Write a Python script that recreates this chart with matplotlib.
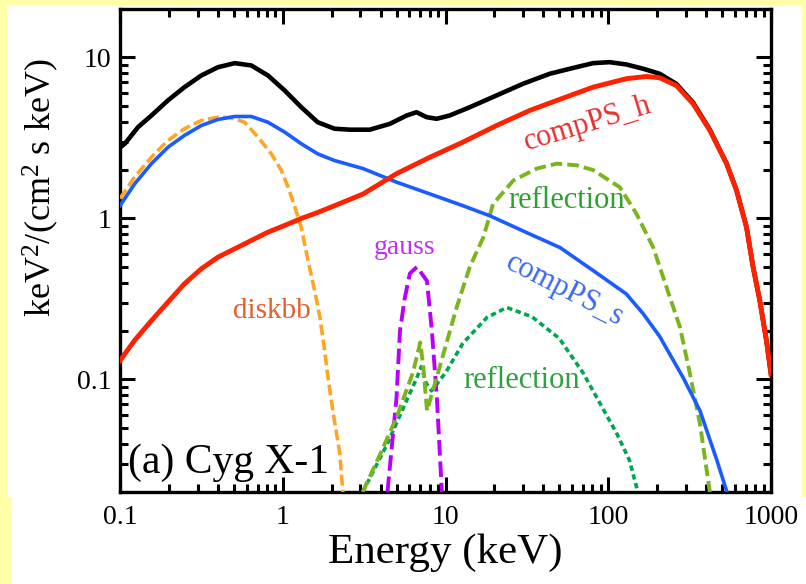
import matplotlib.pyplot as plt
import matplotlib.patches as patches
import numpy as np

plt.rcParams['font.family'] = ['Liberation Serif', 'DejaVu Serif']
plt.rcParams['mathtext.fontset'] = 'custom'
plt.rcParams['mathtext.rm'] = 'Liberation Serif'
plt.rcParams['mathtext.it'] = 'Liberation Serif'

# model components, energy in keV, E^2 F in keV^2/(cm^2 s keV)
total_E = [0.1, 0.107, 0.129, 0.156, 0.197, 0.249, 0.316, 0.40, 0.507, 0.641, 0.811, 1.027, 1.30, 1.64,
           2.08, 2.59, 3.43, 4.55, 5.77, 6.64, 7.65, 8.82, 10.6, 14.1, 20.6, 30, 43.7, 63.8, 80.7, 102,
           129, 164, 207, 262, 332, 421, 533, 614, 707, 776, 853, 937, 1000]
total_F = [2.76, 2.91, 3.69, 4.36, 5.41, 6.54, 7.73, 8.7, 9.22, 8.92, 7.73, 6.24, 4.91, 3.96,
           3.61, 3.56, 3.56, 3.87, 4.36, 4.57, 4.26, 4.16, 4.36, 4.91, 5.81, 6.87, 7.92, 8.71, 9.22, 9.35,
           9.05, 8.51, 7.92, 6.85, 5.25, 3.56, 2.2, 1.5, 0.885, 0.5, 0.31, 0.175, 0.108]

compPS_h_E = [0.1, 0.123, 0.156, 0.197, 0.249, 0.316, 0.40, 0.507, 0.641, 0.811, 1.027, 1.30, 1.64, 2.08,
              3.12, 5.01, 8.02, 12.8, 20.6, 33, 50.5, 80.7, 129, 172, 207, 262, 332, 421, 533, 614, 707,
              776, 853, 937, 1000]
compPS_h_F = [0.131, 0.175, 0.232, 0.302, 0.393, 0.487, 0.575, 0.648, 0.73, 0.822, 0.905, 1.0, 1.09, 1.2,
              1.42, 1.90, 2.40, 2.98, 3.78, 4.69, 5.5, 6.54, 7.38, 7.62, 7.48, 6.7, 5.16, 3.52, 2.19, 1.49,
              0.883, 0.499, 0.31, 0.175, 0.108]

compPS_s_E = [0.1, 0.123, 0.156, 0.197, 0.249, 0.316, 0.40, 0.507, 0.641, 0.811, 1.027, 1.30, 1.64, 2.08,
              3.12, 5.01, 8.02, 12.8, 18.7, 33, 50.5, 80.7, 129, 164, 207, 288, 366, 465, 536]
compPS_s_F = [1.2, 1.64, 2.19, 2.77, 3.28, 3.78, 4.12, 4.30, 4.30, 3.96, 3.44, 2.91, 2.52, 2.29,
              2.04, 1.68, 1.42, 1.2, 1.04, 0.80, 0.66, 0.475, 0.34, 0.256, 0.185, 0.103, 0.064, 0.0315, 0.02]

diskbb_E = [0.1, 0.123, 0.156, 0.197, 0.249, 0.316, 0.40, 0.483, 0.583, 0.705, 0.85, 0.98, 1.08, 1.18,
            1.30, 1.43, 1.57, 1.69, 1.81, 1.88, 2.03, 2.24, 2.34]
diskbb_F = [1.33, 1.81, 2.40, 3.05, 3.61, 4.06, 4.26, 4.22, 3.96, 3.2, 2.52, 1.99, 1.56, 1.2,
            0.88, 0.548, 0.357, 0.244, 0.151, 0.11, 0.064, 0.035, 0.02]

gauss_E = [4.4, 5.0, 5.25, 5.62, 6.04, 6.67, 7.69, 8.25, 8.85, 9.5]
gauss_F = [0.02, 0.077, 0.2, 0.32, 0.455, 0.5, 0.41, 0.2, 0.077, 0.02]

refl1_E = [3.1, 4.0, 5.0, 6.3, 7.0, 7.3, 7.7, 9.0, 11.7, 14.1, 17.1, 19.6, 26.1, 36.3, 48.2, 63.8, 80.7,
           118, 149, 189, 228, 276, 318, 366, 421]
refl1_F = [0.02, 0.035, 0.058, 0.11, 0.17, 0.12, 0.064, 0.11, 0.28, 0.5, 0.766, 1.23, 1.72, 2.04, 2.19,
           2.14, 2.0, 1.56, 1.07, 0.66, 0.374, 0.211, 0.108, 0.053, 0.02]

refl2_E = [3.1, 4.4, 5.8, 6.6, 7.1, 7.6, 8.2, 10, 12.8, 18, 23.8, 34, 50, 70, 89, 113, 135, 152]
refl2_F = [0.02, 0.04, 0.075, 0.1, 0.12, 0.095, 0.085, 0.11, 0.168, 0.243, 0.28, 0.245, 0.18, 0.11,
           0.071, 0.046, 0.0315, 0.02]

fig = plt.figure(figsize=(8.06, 5.84), dpi=100, facecolor='#FFFFA8')
fig.patches.append(patches.Rectangle((7/806, 1-497/584), 795/806, 492/584, transform=fig.transFigure,
                                     facecolor='white', edgecolor='none', zorder=-5))
fig.patches.append(patches.Rectangle((12/806, 0), 794/806, 1-497/584, transform=fig.transFigure,
                                     facecolor='white', edgecolor='none', zorder=-5))

ax = fig.add_axes([120/806, 1-492/584, 651/806, 483/584])
ax.set_zorder(5)
ax.set_facecolor('none')

ax.plot(total_E, total_F, color='black', lw=3.3, zorder=5)
ax.plot(compPS_h_E, compPS_h_F, color='#FF2200', lw=3.5, zorder=6)
ax.plot(compPS_s_E, compPS_s_F, color='#1A5CFF', lw=2.6, zorder=4)
ax.plot(diskbb_E, diskbb_F, color='#FFA524', lw=2.6, ls=(0, (3, 1.2)), zorder=3)
ax.plot(gauss_E, gauss_F, color='#B800FF', lw=2.8, ls=(0, (4, 1.5)), zorder=3)
ax.plot(refl1_E, refl1_F, color='#7AB51D', lw=2.8, ls=(0, (3, 1.3)), zorder=3)
ax.plot(refl2_E, refl2_F, color='#00A650', lw=2.6, ls=(0, (1.5, 1)), zorder=2)

ax.text(75, 3.85, 'compPS_h', color='#E83030', fontsize=22, rotation=17, ha='center', va='center')
ax.text(55.7, 1.29, 'reflection', color='#2EA02E', fontsize=22, ha='center', va='center')
ax.text(5.64, 0.66, 'gauss', color='#C030F0', fontsize=20, ha='center', va='center')
ax.text(54, 0.357, 'compPS_s', color='#3A6AF0', fontsize=22, rotation=-27, ha='center', va='center')
ax.text(0.86, 0.268, 'diskbb', color='#E06030', fontsize=21, ha='center', va='center')
ax.text(29.4, 0.099, 'reflection', color='#2EA040', fontsize=22, ha='center', va='center')
ax.text(0.012, 0.06, '(a) Cyg X-1', color='black', fontsize=30, transform=ax.transAxes,
        ha='left', va='center')

ax.set_xscale('log')
ax.set_yscale('log')
ax.set_xlim(0.1, 1000)
ax.set_ylim(0.02, 20)
ax.set_xticks([0.1, 1, 10, 100, 1000])
ax.set_xticklabels(['0.1', '1', '10', '100', '1000'])
ax.set_yticks([0.1, 1, 10])
ax.set_yticklabels(['0.1', '1', '10'])

for s in ax.spines.values():
    s.set_linewidth(2.4)
ax.tick_params(which='both', direction='in', top=True, right=True, width=2.2, labelsize=20)
ax.tick_params(which='major', length=11)
ax.tick_params(which='minor', length=6)
ax.tick_params(axis='x', pad=9)
ax.tick_params(axis='y', pad=6)

ax.set_xlabel('Energy (keV)', fontsize=31, labelpad=3)
ax.set_ylabel('keV$^2$/(cm$^2$ s keV)', fontsize=26)
ax.yaxis.set_label_coords(-0.09, 0.63)

plt.savefig('out.png', dpi=100, facecolor=fig.get_facecolor())
